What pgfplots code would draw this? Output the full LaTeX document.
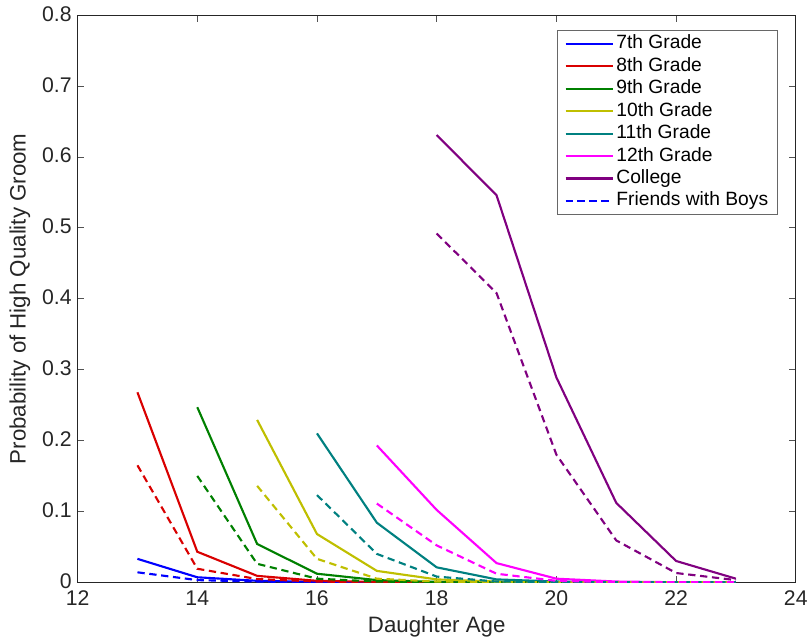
\documentclass[border=0pt]{standalone}
\usepackage{fontspec}
\setmainfont{Liberation Sans}
\usepackage{pgfplots}
\pgfplotsset{compat=1.18}

\definecolor{mblue}{rgb}{0,0,1}
\definecolor{mred}{rgb}{0.85,0,0}
\definecolor{mgreen}{rgb}{0,0.5,0}
\definecolor{molive}{rgb}{0.75,0.75,0}
\definecolor{mteal}{rgb}{0,0.5,0.5}
\definecolor{mmagenta}{rgb}{1,0,1}
\definecolor{mpurple}{rgb}{0.5,0,0.5}
\definecolor{axgray}{rgb}{0.15,0.15,0.15}

\pgfplotsset{
    solid line/.style={line width=1.6pt},
    dash line/.style={line width=1.6pt, dash pattern=on 5.5pt off 3.5pt},
}

\begin{document}
\begin{tikzpicture}
\begin{axis}[
    scale only axis,
    width=541.5pt, height=427.5pt,
    xmin=12, xmax=24, ymin=0, ymax=0.8,
    xtick={12,14,...,24},
    ytick={0,0.1,...,0.8},
    yticklabel style={/pgf/number format/fixed},
    /pgf/number format/assume math mode=true,
    tick align=inside,
    major tick length=5pt,
    axis line style={axgray, line width=0.6pt},
    every tick/.style={axgray!80, line width=0.6pt},
    ticklabel style={font=\fontsize{16}{19}\selectfont, text=axgray},
    xticklabel style={yshift=-3pt},
    yticklabel style={xshift=-1pt, yshift=1pt},
    label style={font=\fontsize{16.8}{19}\selectfont, text=axgray},
    xlabel={Daughter Age},
    ylabel={Probability of High Quality Groom},
    xlabel style={yshift=-1pt},
    ylabel style={yshift=2pt},
    legend style={at={(0.975,0.974)}, anchor=north east, draw=axgray!70,
        line width=0.6pt,
        font=\fontsize{14.5}{16}\selectfont, row sep=3.4pt,
        inner xsep=5pt, inner ysep=3.5pt,
        nodes={text=black, inner xsep=2pt, inner ysep=0pt,
               text height=10.5pt, text depth=3pt}},
    legend cell align=left,
    legend image code/.code={\draw[#1] (0cm,0cm) -- (1.25cm,0cm);},
]
\addplot[mblue, solid line] coordinates {(13,0.033) (14,0.007) (15,0.002) (16,0.0005) (17,0) (18,0) (19,0) (20,0) (21,0) (22,0) (23,0)};
\addlegendentry{7th Grade}
\addplot[mred, solid line] coordinates {(13,0.268) (14,0.043) (15,0.009) (16,0.002) (17,0.0005) (18,0) (19,0) (20,0) (21,0) (22,0) (23,0)};
\addlegendentry{8th Grade}
\addplot[mgreen, solid line] coordinates {(14,0.247) (15,0.054) (16,0.012) (17,0.003) (18,0.0005) (19,0) (20,0) (21,0) (22,0) (23,0)};
\addlegendentry{9th Grade}
\addplot[molive, solid line] coordinates {(15,0.229) (16,0.068) (17,0.016) (18,0.004) (19,0.001) (20,0) (21,0) (22,0) (23,0)};
\addlegendentry{10th Grade}
\addplot[mteal, solid line] coordinates {(16,0.210) (17,0.084) (18,0.021) (19,0.004) (20,0.001) (21,0) (22,0) (23,0)};
\addlegendentry{11th Grade}
\addplot[mmagenta, solid line] coordinates {(17,0.193) (18,0.102) (19,0.027) (20,0.005) (21,0.001) (22,0) (23,0)};
\addlegendentry{12th Grade}
\addplot[mpurple, solid line] coordinates {(18,0.631) (19,0.546) (20,0.289) (21,0.112) (22,0.030) (23,0.005)};
\addlegendentry{College}
\addplot[mblue, dash line] coordinates {(13,0.014) (14,0.003) (15,0.001) (16,0) (17,0) (18,0) (19,0) (20,0) (21,0) (22,0) (23,0)};
\addlegendentry{Friends with Boys}
\addplot[mred, dash line, forget plot] coordinates {(13,0.165) (14,0.019) (15,0.0045) (16,0.001) (17,0) (18,0) (19,0) (20,0) (21,0) (22,0) (23,0)};
\addplot[mgreen, dash line, forget plot] coordinates {(14,0.150) (15,0.026) (16,0.005) (17,0.001) (18,0) (19,0) (20,0) (21,0) (22,0) (23,0)};
\addplot[molive, dash line, forget plot] coordinates {(15,0.136) (16,0.033) (17,0.005) (18,0.001) (19,0) (20,0) (21,0) (22,0) (23,0)};
\addplot[mteal, dash line, forget plot] coordinates {(16,0.123) (17,0.040) (18,0.008) (19,0.001) (20,0) (21,0) (22,0) (23,0)};
\addplot[mmagenta, dash line, forget plot] coordinates {(17,0.111) (18,0.052) (19,0.012) (20,0.002) (21,0) (22,0) (23,0)};
\addplot[mpurple, dash line, forget plot] coordinates {(18,0.492) (19,0.408) (20,0.180) (21,0.059) (22,0.013) (23,0.003)};
\end{axis}
\path (current axis.south west) ++(-58.5pt,-45.75pt) coordinate (bbsw);
\path (current axis.north east) ++(9.75pt,11.5pt) coordinate (bbne);
\path (bbsw) rectangle (bbne);
\end{tikzpicture}
\end{document}
